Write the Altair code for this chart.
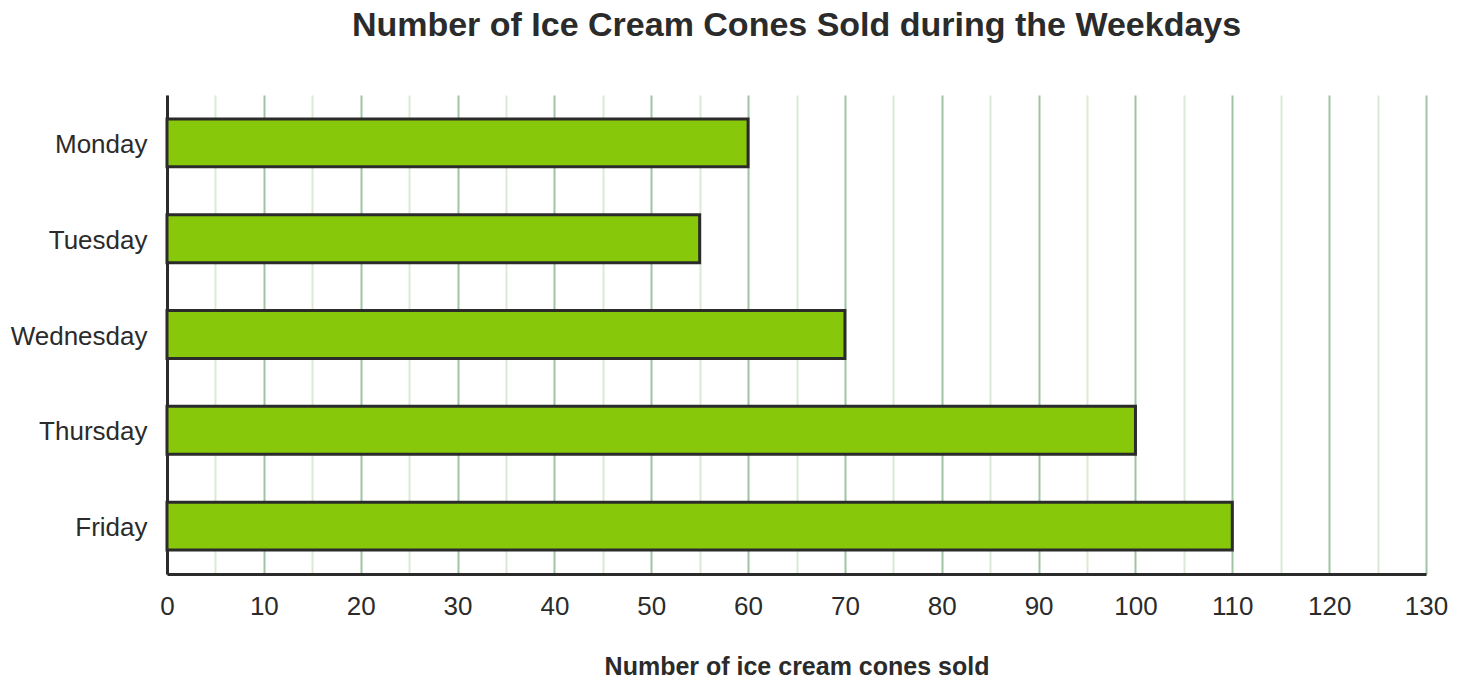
import altair as alt
import pandas as pd

days = ["Monday", "Tuesday", "Wednesday", "Thursday", "Friday"]
cones = [60, 55, 70, 100, 110]
tick_values = list(range(0, 131, 5))

df = pd.DataFrame({"day": days, "cones": cones})

TEXT = "#2b2b2b"
FONT = "Liberation Sans"

chart = (
    alt.Chart(df)
    .mark_bar(color="#88c80a", stroke=TEXT, strokeWidth=3)
    .encode(
        y=alt.Y(
            "day:N",
            sort=days,
            title=None,
            scale=alt.Scale(paddingInner=0.5, paddingOuter=0.25),
            axis=alt.Axis(
                domainColor=TEXT,
                domainWidth=3,
                ticks=False,
                labelPadding=20,
                labelFontSize=26,
                labelOffset=2,
                labelColor=TEXT,
                labelFont=FONT,
                grid=False,
            ),
        ),
        x=alt.X(
            "cones:Q",
            title="Number of ice cream cones sold",
            scale=alt.Scale(domain=[0, 130], nice=False),
            axis=alt.Axis(
                values=tick_values,
                labelExpr="datum.value % 10 === 0 ? datum.label : ''",
                domainColor=TEXT,
                domainWidth=3,
                ticks=False,
                labelPadding=19,
                labelFontSize=26,
                labelColor=TEXT,
                labelFont=FONT,
                labelFlush=False,
                titleFontSize=25,
                titleFont=FONT,
                titleFontWeight="bold",
                titleColor=TEXT,
                titlePadding=35,
                grid=True,
                gridWidth=2,
                gridColor={
                    "condition": {"test": "datum.value % 10 === 0", "value": "#9fc3a3"},
                    "value": "#dbe9d6",
                },
            ),
        ),
    )
    .properties(
        width=1259,
        height=479,
        title=alt.TitleParams(
            "Number of Ice Cream Cones Sold during the Weekdays",
            fontSize=34,
            font=FONT,
            fontWeight="bold",
            color=TEXT,
            anchor="middle",
            offset=52,
        ),
        autosize=alt.AutoSizeParams(type="none"),
        padding={"left": 159, "top": 87, "right": 26, "bottom": 110},
    )
    .configure_view(stroke=None)
)

chart.save("out.html", embed_options={"renderer": "svg", "actions": False})
